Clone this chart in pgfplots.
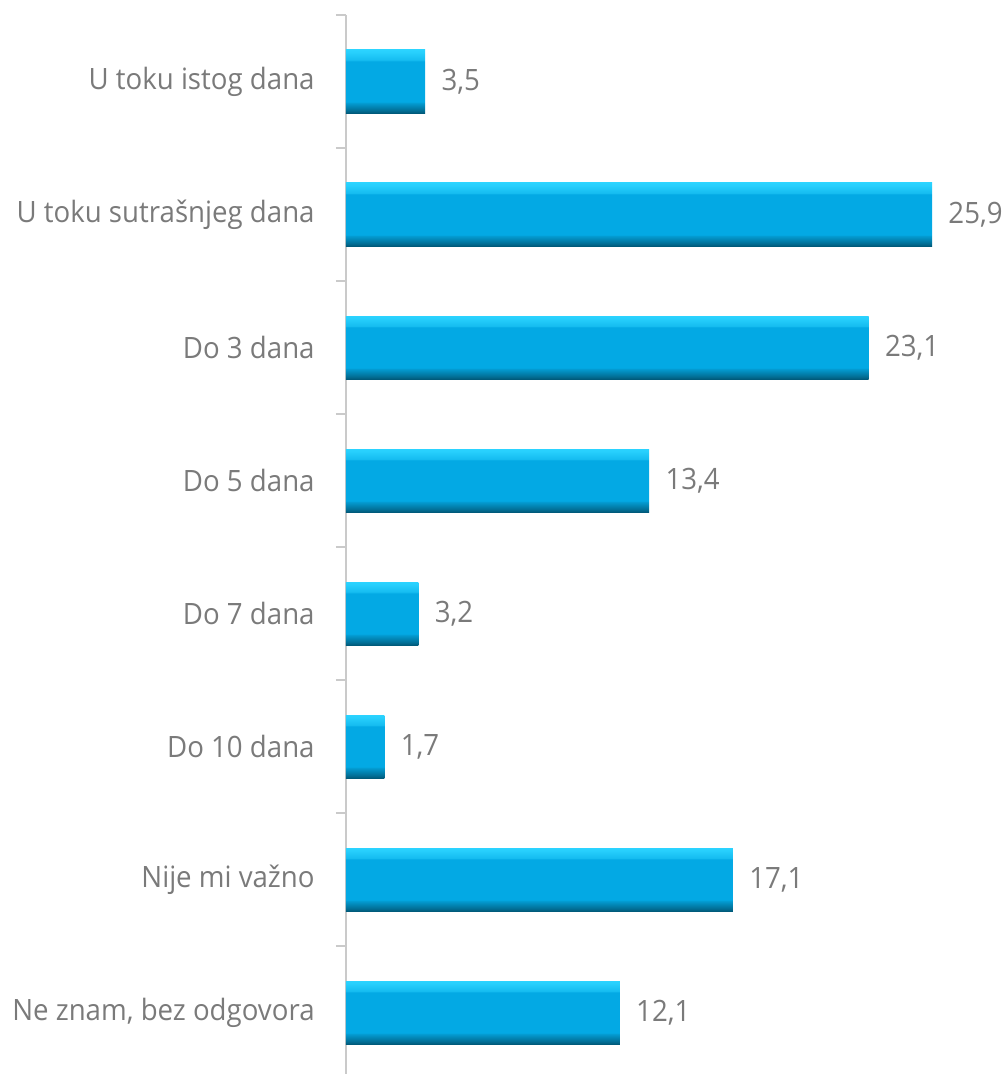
\documentclass[border=0pt]{standalone}
\usepackage{fontspec}
\setmainfont{Open Sans}[FakeStretch=0.94]
\usepackage{pgfplots}
\pgfplotsset{compat=1.18}
\usetikzlibrary{calc}
\definecolor{barmain}{HTML}{03A9E4}
\definecolor{barlight}{HTML}{2BD3FF}
\definecolor{bardark}{HTML}{005A7A}
\definecolor{txtgray}{HTML}{7A7A7A}
\definecolor{axgray}{HTML}{CACACA}
\pgfdeclareverticalshading{bevel}{100bp}{color(0bp)=(bardark); color(25bp)=(bardark); color(27bp)=(barmain!65!black); color(33bp)=(barmain!92!black); color(34bp)=(barmain); color(66bp)=(barmain); color(67bp)=(barlight!45!barmain); color(73bp)=(barlight!90!barmain); color(75bp)=(barlight); color(100bp)=(barlight)}
\begin{document}
\fontsize{14.7}{17}\selectfont
\begin{tikzpicture}
\begin{axis}[
  scale only axis, width=316.8pt, height=529.5pt,
  xbar, bar width=0.474, bar shift=0pt, xmin=0, xmax=28,
  ymin=-0.5, ymax=7.462, y dir=reverse,
  axis x line=none, axis y line*=left,
  axis line style={draw=axgray, line width=1pt, -},
  ytick={0,...,7},
  yticklabels={U toku istog dana, U toku sutrašnjeg dana, Do 3 dana, Do 5 dana, Do 7 dana, Do 10 dana, Nije mi važno, {Ne znam, bez odgovora}},
  major tick length=0pt,
  minor ytick={-0.5,0.5,...,6.5}, minor tick length=5pt, tick align=outside,
  minor tick style={draw=axgray, line width=1pt},
  yticklabel style={font=\fontsize{14.7}{17}\selectfont, text=txtgray, xshift=-10.6pt},
  /pgf/number format/assume math mode=true,
  nodes near coords,
  nodes near coords style={font=\fontsize{14.7}{17}\selectfont, text=txtgray, anchor=west, xshift=3.1pt,
    /pgf/number format/.cd, fixed, fixed zerofill, precision=1, use comma},
  every axis plot/.append style={shading=bevel, draw=none},
]
\addplot coordinates {(3.5,0)};
\addplot coordinates {(25.9,1)};
\addplot coordinates {(23.1,2)};
\addplot coordinates {(13.4,3)};
\addplot coordinates {(3.2,4)};
\addplot coordinates {(1.7,5)};
\addplot coordinates {(17.1,6)};
\addplot coordinates {(12.1,7)};
\end{axis}
\pgfresetboundingbox
\path ($(current axis.south west)+(-173pt,0pt)$) rectangle ($(current axis.north west)+(331pt,7.5pt)$);
\end{tikzpicture}
\end{document}
